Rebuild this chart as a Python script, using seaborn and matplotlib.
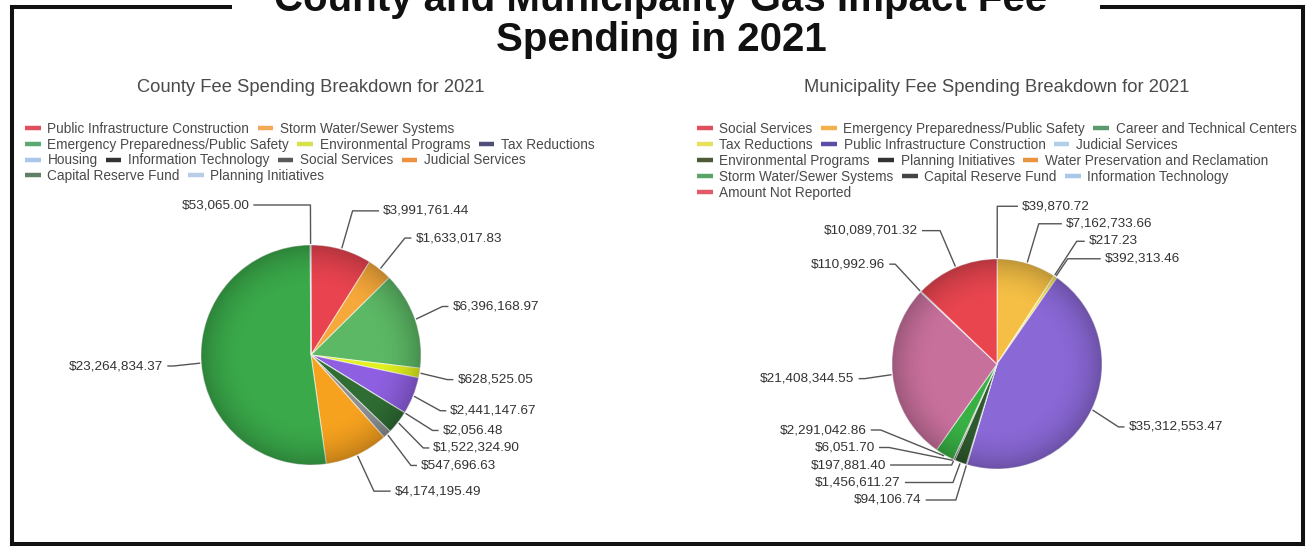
import numpy as np
import matplotlib
matplotlib.use("Agg")
import matplotlib.pyplot as plt
from matplotlib.lines import Line2D
from matplotlib.patches import Circle
import seaborn as sns

# ---------------------------------------------------------------- data
# Slices listed clockwise from 12 o'clock.
county_categories = [
    "Public Infrastructure Construction", "Storm Water/Sewer Systems",
    "Emergency Preparedness/Public Safety", "Environmental Programs",
    "Tax Reductions", "Housing", "Information Technology", "Social Services",
    "Judicial Services", "Capital Reserve Fund", "Planning Initiatives",
]
county_values = [
    3991761.44, 1633017.83, 6396168.97, 628525.05, 2441147.67, 2056.48,
    1522324.90, 547696.63, 4174195.49, 23264834.37, 53065.00,
]

muni_categories = [
    "Social Services", "Emergency Preparedness/Public Safety",
    "Career and Technical Centers", "Tax Reductions",
    "Public Infrastructure Construction", "Judicial Services",
    "Environmental Programs", "Planning Initiatives",
    "Water Preservation and Reclamation", "Storm Water/Sewer Systems",
    "Capital Reserve Fund", "Information Technology", "Amount Not Reported",
]
muni_values = [
    39870.72, 7162733.66, 217.23, 392313.46, 35312553.47, 94106.74,
    1456611.27, 197881.40, 6051.70, 2291042.86, 21408344.55, 110992.96,
    10089701.32,
]

title_lines = ["County and Municipality Gas Impact Fee", "Spending in 2021"]
county_title = "County Fee Spending Breakdown for 2021"
muni_title = "Municipality Fee Spending Breakdown for 2021"

# ---------------------------------------------------------------- styles
county_slice_colors = ["#e8434f", "#f6a83a", "#5cb865", "#e2f01e", "#8e5fe0",
                       "#a9c9ee", "#2f6d34", "#8a8f92", "#f7a21f", "#3aa94a",
                       "#b5cde8"]
county_key_colors = ["#e0505c", "#f2aa55", "#5aa872", "#d6e24c", "#4f4f7a",
                     "#aac6ea", "#333333", "#5a5a5a", "#ee9040", "#5f7f66",
                     "#b8cde6"]
muni_slice_colors = ["#e8434f", "#f5bf45", "#4caf50", "#f2e040", "#8a68d6",
                     "#a9c9ee", "#2e5a2e", "#3a3a3a", "#f0902e", "#38b044",
                     "#c8709c", "#a9c9ee", "#e8454f"]
muni_key_colors = ["#e0505c", "#f2b04a", "#5a9a6e", "#e6e25a", "#5a4ea8",
                   "#b0d0ea", "#4d5a3c", "#333333", "#eb9240", "#5aa464",
                   "#444444", "#a8c8e8", "#e05a68"]

county_rows = [2, 3, 4, 2]
muni_rows = [3, 3, 3, 3, 1]

W, H = 1306, 548
FONT = ["Liberation Sans", "DejaVu Sans"]

sns.set_theme(style="white")
plt.rcParams["font.family"] = FONT

fig = plt.figure(figsize=(W / 100, H / 100), dpi=100)
fig.patch.set_facecolor("white")
ax = fig.add_axes([0, 0, 1, 1])


def money(v):
    return "${:,.2f}".format(v)


def relax(ys, gap, lo, hi):
    ys = list(ys)
    for _ in range(600):
        for k in range(len(ys) - 1):
            d = ys[k] - ys[k + 1]
            if d < gap:
                push = (gap - d) / 2
                ys[k] += push
                ys[k + 1] -= push
        ys = [min(max(v, lo), hi) for v in ys]
    return ys


def draw_pie(values, colors, cx, cy_top, r, top_px=200, bottom_px=500):
    cy = H - cy_top
    ax.pie(values, colors=colors, startangle=90, counterclock=False,
           center=(cx, cy), radius=r, frame=True,
           wedgeprops=dict(linewidth=0.8, edgecolor=(1, 1, 1, 0.55)))

    # soft rim shading
    n = 300
    g = np.linspace(-1, 1, n)
    X, Y = np.meshgrid(g, g)
    R = np.hypot(X, Y)
    img = np.zeros((n, n, 4))
    img[..., 3] = np.clip((R - 0.6) / 0.4, 0, 1) ** 2 * 0.22
    im = ax.imshow(img, extent=(cx - r, cx + r, cy - r, cy + r),
                   origin="lower", zorder=3, interpolation="bilinear")
    im.set_clip_path(Circle((cx, cy), r, transform=ax.transData))

    total = float(sum(values))
    cum = np.concatenate([[0], np.cumsum(values)])
    mids = np.radians((cum[:-1] + cum[1:]) / 2 / total * 360)

    Rl = r + 40
    a, b = r + 38, r + 55
    lo, hi = cy_top - bottom_px, cy_top - top_px
    entries = []
    for i, th in enumerate(mids):
        s, c = np.sin(th), np.cos(th)
        entries.append(dict(i=i, s=s, c=c, side=1 if s >= 0 else -1,
                            y=Rl * c))
    for side in (1, -1):
        grp = sorted([e for e in entries if e["side"] == side],
                     key=lambda e: -e["y"])
        ys = relax([e["y"] for e in grp], 17.5, lo, hi)
        for e, y in zip(grp, ys):
            e["y"] = y

    for e in entries:
        s, c, side, y = e["s"], e["c"], e["side"], e["y"]
        dx = max(a * np.sqrt(max(1 - (y / b) ** 2, 0)), 25)
        tx = cx + side * dx
        lx = tx - side * 4
        ex, ey = cx + (r + 1) * s, cy + (r + 1) * c
        t = y / c if abs(c) > 1e-6 else -1
        if t > r + 4:
            bx = cx + t * s
            if side * (bx - lx) > -6:
                bx = lx - side * 6
        else:
            bx = lx - side * 10
        by = cy + y
        ax.plot([ex, bx, lx], [ey, by, by], color="#555555", lw=1.0,
                solid_capstyle="butt", zorder=4)
        ax.text(tx, by, money(values[e["i"]]), ha="left" if side > 0 else "right",
                va="center", fontsize=9.7, color="#333333", zorder=5)


def draw_key(categories, colors, rows, x_px, y_px, dy_px):
    k = 0
    for j, nrow in enumerate(rows):
        handles = [Line2D([], [], color=colors[k + m], lw=3.2,
                          solid_capstyle="butt") for m in range(nrow)]
        labels = categories[k:k + nrow]
        k += nrow
        fig.legend(handles, labels, loc="center left",
                   bbox_to_anchor=(x_px / W, 1 - (y_px + j * dy_px) / H),
                   bbox_transform=fig.transFigure, ncol=nrow, frameon=False,
                   fontsize=9.8, labelcolor="#4a4a4a", handlelength=1.15,
                   handletextpad=0.5, columnspacing=0.6, borderpad=0,
                   borderaxespad=0)


draw_pie(county_values, county_slice_colors, 311, 355, 110)
draw_pie(muni_values, muni_slice_colors, 997, 364, 105)

draw_key(county_categories, county_key_colors, county_rows, 25, 129, 15.7)
draw_key(muni_categories, muni_key_colors, muni_rows, 697, 129, 15.9)

# titles
fig.text(311 / W, 1 - 88 / H, county_title, ha="center", va="center",
         fontsize=13.2, color="#4a4a4a")
fig.text(997 / W, 1 - 88 / H, muni_title, ha="center", va="center",
         fontsize=13.2, color="#4a4a4a")
fig.text(661 / W, 1 - 11 / H, title_lines[0], ha="center", va="baseline",
         fontsize=29, weight="bold", color="#111111")
fig.text(661 / W, 1 - 51 / H, title_lines[1], ha="center", va="baseline",
         fontsize=29, weight="bold", color="#111111")

# frame broken by the heading
frame_kw = dict(color="#111111", lw=2.9, solid_capstyle="projecting", zorder=6)
ax.plot([12, 230], [H - 7, H - 7], **frame_kw)
ax.plot([1102, 1303], [H - 7, H - 7], **frame_kw)
ax.plot([12, 12], [H - 7, H - 544], **frame_kw)
ax.plot([1303, 1303], [H - 7, H - 544], **frame_kw)
ax.plot([12, 1303], [H - 544, H - 544], **frame_kw)

ax.set_xlim(0, W)
ax.set_ylim(0, H)
ax.set_aspect("auto")
ax.set_axis_off()

fig.savefig("out.png", dpi=100, facecolor="white")
